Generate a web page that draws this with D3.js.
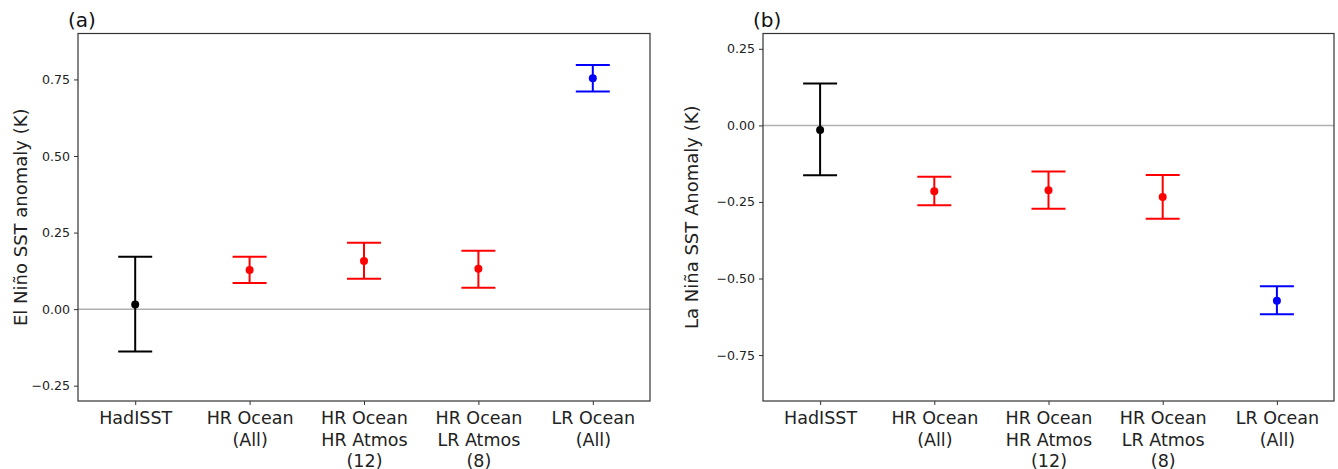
<!DOCTYPE html>
<html>
<head>
<meta charset="utf-8">
<script src="https://cdn.jsdelivr.net/npm/d3@7"></script>
<style>
  body { margin: 0; background: #fff; }
  text { font-family: "DejaVu Sans", sans-serif; }
</style>
</head>
<body>
<div id="chart"></div>
<script>
// categories on the x axis (multi-line labels)
var categories = [
  ["HadISST"],
  ["HR Ocean", "(All)"],
  ["HR Ocean", "HR Atmos", "(12)"],
  ["HR Ocean", "LR Atmos", "(8)"],
  ["LR Ocean", "(All)"]
];
var markColors = ["black", "red", "red", "red", "blue"];

// panel (a) El Nino
var ninoMean = [0.015, 0.128, 0.157, 0.132, 0.754];
var ninoLow  = [-0.138, 0.085, 0.099, 0.070, 0.711];
var ninoHigh = [0.171, 0.171, 0.217, 0.191, 0.797];
var ninoTicks = [-0.25, 0.00, 0.25, 0.50, 0.75];

// panel (b) La Nina
var ninaMean = [-0.015, -0.215, -0.212, -0.234, -0.573];
var ninaLow  = [-0.163, -0.261, -0.272, -0.305, -0.617];
var ninaHigh = [0.137, -0.168, -0.151, -0.162, -0.525];
var ninaTicks = [-0.75, -0.50, -0.25, 0.00, 0.25];

var width = 1338, height = 469;

var svg = d3.select("#chart")
  .append("svg")
  .attr("width", width)
  .attr("height", height);

function drawPanel(p) {
  var x = d3.scaleLinear().domain([-0.5, 4.5]).range([p.left, p.right]);
  var y = d3.scaleLinear().domain(p.domain).range([p.bottom, p.top]);

  var g = svg.append("g");

  // zero line
  g.append("line")
    .attr("x1", p.left).attr("x2", p.right)
    .attr("y1", y(0)).attr("y2", y(0))
    .style("stroke", "#b0b0b0")
    .style("stroke-width", 1.5);

  // y axis
  var yAxis = g.append("g")
    .attr("transform", "translate(" + p.left + ",0)")
    .call(d3.axisLeft(y).tickValues(p.ticks).tickFormat(d3.format(".2f")).tickSize(4).tickPadding(4));
  yAxis.select(".domain").remove();
  yAxis.selectAll("text")
    .text(function(d) { return d3.format(".2f")(d).replace("-", "\u2212"); })
    .style("font-size", "12.6px")
    .style("fill", "#222");
  yAxis.selectAll("line").style("stroke", "#333");

  // x axis
  var xAxis = g.append("g")
    .attr("transform", "translate(0," + p.bottom + ")")
    .call(d3.axisBottom(x).tickValues(d3.range(categories.length)).tickSize(4).tickFormat(""));
  xAxis.select(".domain").remove();
  xAxis.selectAll("line").style("stroke", "#333");
  xAxis.selectAll(".tick")
    .append("text")
    .attr("y", 23)
    .attr("text-anchor", "middle")
    .style("font-size", "17.5px")
    .style("fill", "#222")
    .selectAll("tspan")
    .data(function(d) { return categories[d]; })
    .enter()
    .append("tspan")
    .attr("x", 0)
    .attr("dy", function(d, i) { return i === 0 ? 0 : 21.5; })
    .text(function(d) { return d; });

  // error bars
  var bars = g.selectAll(".err")
    .data(p.mean.map(function(m, i) { return {i: i, m: m, lo: p.low[i], hi: p.high[i]}; }))
    .enter()
    .append("g")
    .style("stroke", function(d) { return markColors[d.i]; })
    .style("stroke-width", 2);
  bars.append("line")
    .attr("x1", function(d) { return x(d.i); }).attr("x2", function(d) { return x(d.i); })
    .attr("y1", function(d) { return y(d.lo); }).attr("y2", function(d) { return y(d.hi); });
  bars.append("line")
    .attr("x1", function(d) { return x(d.i) - 17; }).attr("x2", function(d) { return x(d.i) + 17; })
    .attr("y1", function(d) { return y(d.lo); }).attr("y2", function(d) { return y(d.lo); });
  bars.append("line")
    .attr("x1", function(d) { return x(d.i) - 17; }).attr("x2", function(d) { return x(d.i) + 17; })
    .attr("y1", function(d) { return y(d.hi); }).attr("y2", function(d) { return y(d.hi); });
  g.selectAll(".dot")
    .data(p.mean)
    .enter()
    .append("circle")
    .attr("cx", function(d, i) { return x(i); })
    .attr("cy", function(d) { return y(d); })
    .attr("r", 4)
    .style("fill", function(d, i) { return markColors[i]; });

  // frame
  g.append("rect")
    .attr("x", p.left).attr("y", p.top)
    .attr("width", p.right - p.left).attr("height", p.bottom - p.top)
    .style("fill", "none")
    .style("stroke", "#333")
    .style("stroke-width", 1.2);

  // y label
  g.append("text")
    .attr("transform", "translate(" + p.labelX + "," + ((p.top + p.bottom) / 2) + ") rotate(-90)")
    .attr("text-anchor", "middle")
    .attr("dy", "0.35em")
    .style("font-size", "18px")
    .style("fill", "#222")
    .text(p.ylabel);

  // panel letter
  g.append("text")
    .attr("x", p.left - 10)
    .attr("y", 27)
    .style("font-size", "20px")
    .style("fill", "#111")
    .text(p.letter);
}

drawPanel({
  left: 78, right: 650, top: 33.5, bottom: 401,
  domain: [-0.3, 0.9], ticks: ninoTicks,
  mean: ninoMean, low: ninoLow, high: ninoHigh,
  ylabel: "El Niño SST anomaly (K)", labelX: 21, letter: "(a)"
});

drawPanel({
  left: 763, right: 1334, top: 33.5, bottom: 401,
  domain: [-0.9, 0.3], ticks: ninaTicks,
  mean: ninaMean, low: ninaLow, high: ninaHigh,
  ylabel: "La Niña SST Anomaly (K)", labelX: 692, letter: "(b)"
});
</script>
</body>
</html>
